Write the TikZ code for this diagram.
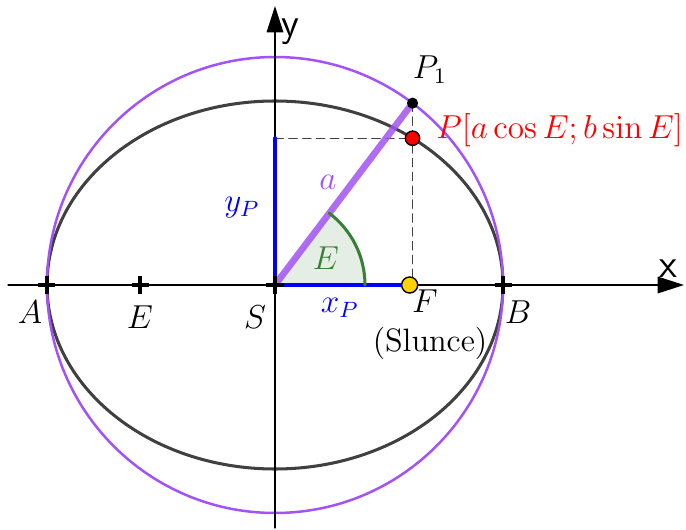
\documentclass[tikz,border=0pt]{standalone}
\usetikzlibrary{arrows.meta}
\definecolor{fialova}{RGB}{163,82,245}
\definecolor{seda}{RGB}{64,64,64}
\definecolor{zelena}{RGB}{56,128,56}
\definecolor{zluta}{RGB}{255,210,0}
\begin{document}
\begin{tikzpicture}[declare function={ra=2.28; rb=1.84; ee=sqrt(ra^2-rb^2); uhel=52.9; ru=0.9;}, x=1.27cm, y=1.27cm, line join=round, line cap=round,
	font=\fontsize{11.7pt}{14pt}\selectfont,
	osa/.style={line width=0.45pt, -{Triangle[length=9.5pt,width=6pt]}},
	kriz/.style={line width=1.5pt, line cap=butt},
	popis/.style={inner sep=1pt}]
	\useasboundingbox (-2.75,-2.45) rectangle (4.11,2.85);
	\coordinate (S) at (0,0);
	\coordinate (A) at (-ra,0);
	\coordinate (B) at (ra,0);
	\coordinate (E) at (-ee,0);
	\coordinate (F) at (ee,0);
	\coordinate (P1) at ({ra*cos(uhel)},{ra*sin(uhel)});
	\coordinate (P) at ({ra*cos(uhel)},{rb*sin(uhel)});
	\coordinate (Py) at (0,{rb*sin(uhel)});
	\coordinate (Px) at ({ra*cos(uhel)},0);
	\coordinate (X0) at (-2.67,0);
	\coordinate (X1) at (4.09,0);
	\coordinate (Y0) at (0,-2.43);
	\coordinate (Y1) at (0,2.79);
	
	\fill[zelena!13] (S) -- (ru,0) arc (0:uhel:ru) -- cycle;
	
	\draw[seda, line width=1.1pt] (S) ellipse ({ra} and {rb});
	\draw[fialova, line width=0.9pt] (S) circle (ra);
	
	\draw[osa] (X0) -- (X1);
	\draw[osa] (Y0) -- (Y1);
	
	\draw[seda, line width=0.5pt, dash pattern=on 3pt off 2pt] (Py) -- (P) (P1) -- (Px);
	\draw[blue, line width=1.5pt] (S) -- (Py) (S) -- (Px);
	\draw[fialova, line width=2.4pt, opacity=0.85] (S) -- (P1);
	\draw[zelena, line width=1.1pt] (ru,0) arc (0:uhel:ru);
	
	\foreach \p in {A,E,S,B} { \draw[kriz, shift={(\p)}] (-0.085,0) -- (0.085,0) (0,-0.085) -- (0,0.085); }
	
	\filldraw[fill=black] (P1) circle (1.8pt);
	\filldraw[fill=red, line width=0.5pt] (P) circle (2.6pt);
	\filldraw[fill=zluta, line width=0.5pt] (F) circle (2.9pt);
	
	\node[popis] (lx) at (3.93,0.16) {\Large\textsf{x}};
	\node[popis] (ly) at (0.15,2.53) {\Large\textsf{y}};
	\node[popis] (lA) at (-2.45,-0.27) {$A$};
	\node[popis] (lE) at (-1.35,-0.32) {$E$};
	\node[popis] (lS) at (-0.2,-0.32) {$S$};
	\node[popis, text=blue] (lxP) at (0.65,-0.23) {$x_P$};
	\node[popis] (lF) at (1.5,-0.16) {$F$};
	\node[popis] (lSl) at (1.55,-0.58) {(Slunce)};
	\node[popis] (lB) at (2.43,-0.27) {$B$};
	\node[popis, text=blue] (lyP) at (-0.33,0.77) {$y_P$};
	\node[popis, text=fialova] (la) at (0.53,1.03) {$a$};
	\node[popis, text=zelena] (lEu) at (0.51,0.27) {$E$};
	\node[popis] (lP1) at (1.55,2.15) {$P_1$};
	\node[popis, text=red, anchor=west] (lP) at (1.58,1.55) {$P[a\cos E; b\sin E]$};
\end{tikzpicture}
\end{document}
